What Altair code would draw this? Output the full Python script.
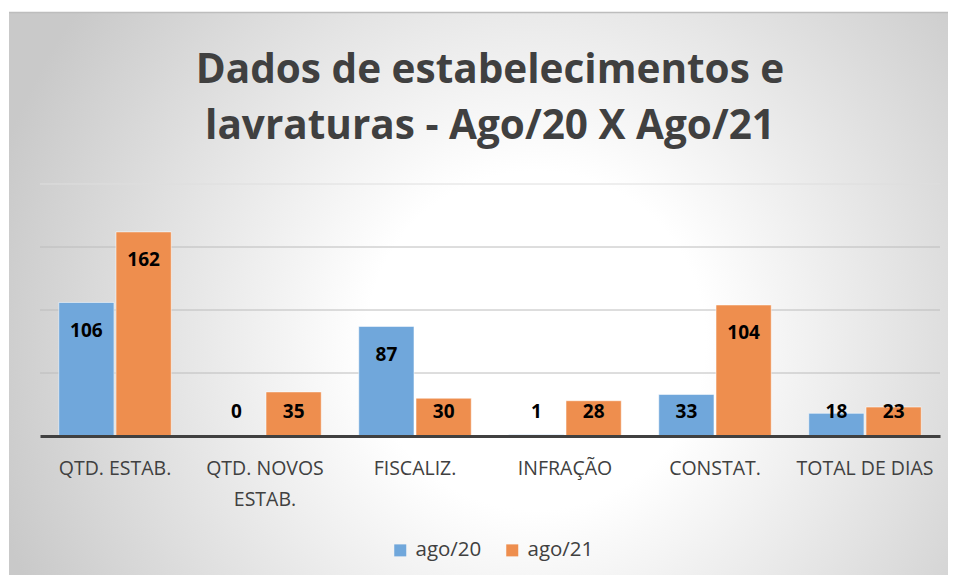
import altair as alt
import pandas as pd

categories = ["QTD. ESTAB.", "QTD. NOVOS\nESTAB.", "FISCALIZ.", "INFRAÇÃO", "CONSTAT.", "TOTAL DE DIAS"]
ago20 = [106, 0, 87, 1, 33, 18]
ago21 = [162, 35, 30, 28, 104, 23]
series = ["ago/20", "ago/21"]
colors = ["#70a7db", "#ee8e4e"]
grid_values = [50, 100, 150, 200]
title_lines = ["Dados de estabelecimentos e", "lavraturas - Ago/20 X Ago/21"]

rows = []
for c, a, b in zip(categories, ago20, ago21):
    rows.append({"cat": c, "serie": series[0], "valor": a})
    rows.append({"cat": c, "serie": series[1], "valor": b})
df = pd.DataFrame(rows)

W, H = 900, 252
FONT = "Open Sans"
yscale = alt.Scale(domain=[0, 200], nice=False, zero=True)

x_enc = alt.X(
    "cat:N",
    sort=categories,
    scale=alt.Scale(paddingInner=0.25, paddingOuter=0.125),
    axis=alt.Axis(
        title=None,
        labelExpr="split(datum.label, '\\n')",
        labelFont=FONT,
        labelFontSize=19.5,
        labelColor="#404040",
        labelLineHeight=31,
        labelPadding=23,
        labelAngle=0,
        labelBaseline="top",
        ticks=False,
        tickSize=0,
        domainColor="#404040",
        domainWidth=3,
        grid=False,
        zindex=1,
    ),
)
xoff = alt.XOffset("serie:N", sort=series, scale=alt.Scale(paddingInner=0.035))

gradient = {
    "gradient": "radial",
    "x1": 0.56, "y1": 0.55, "r1": 0,
    "x2": 0.56, "y2": 0.55, "r2": 0.6,
    "stops": [
        {"offset": 0, "color": "#ffffff"},
        {"offset": 0.3, "color": "#ffffff"},
        {"offset": 1, "color": "#c9c9c9"},
    ],
}

bg = alt.Chart(alt.Data(values=[{"k": 1}])).mark_rect(fill=gradient, clip=False).encode(
    x=alt.value(-31), x2=alt.value(910), y=alt.value(-172), y2=alt.value(391)
)

topline = alt.Chart(alt.Data(values=[{"k": 1}])).mark_rule(color="#bdbdbd", strokeWidth=1.5, clip=False).encode(
    x=alt.value(-31), x2=alt.value(910), y=alt.value(-171.5)
)

grid = alt.Chart(pd.DataFrame({"g": grid_values})).mark_rule(strokeWidth=1).encode(
    y=alt.Y("g:Q", scale=yscale, axis=None),
    stroke=alt.condition("datum.g == 200", alt.value("#dedede"), alt.value("#bcbcbc")),
)

bars = alt.Chart(df).mark_bar(stroke="#ffffff", strokeOpacity=0.55, strokeWidth=1).encode(
    x=x_enc,
    xOffset=xoff,
    y=alt.Y("valor:Q", scale=yscale, axis=None),
    color=alt.Color(
        "serie:N",
        scale=alt.Scale(domain=series, range=colors),
        legend=alt.Legend(
            title=None,
            orient="none",
            legendX=350,
            legendY=356,
            direction="horizontal",
            symbolType="square",
            symbolSize=144,
            symbolStrokeWidth=0,
            symbolOpacity=1,
            labelFont=FONT,
            labelFontSize=20.5,
            labelColor="#404040",
            labelOffset=5,
            columnPadding=20,
        ),
    ),
)

labels = alt.Chart(df).transform_calculate(
    label_y="max(datum.valor - 22.5, 19)"
).mark_text(font=FONT, fontWeight="bold", fontSize=19, color="#000000", baseline="middle").encode(
    x=x_enc,
    xOffset=xoff,
    y=alt.Y("label_y:Q", scale=yscale, axis=None),
    text=alt.Text("valor:Q"),
)

chart = alt.layer(bg, topline, grid, bars, labels).properties(
    width=W,
    height=H,
    padding={"left": 32, "top": 176, "right": 8, "bottom": 139},
    autosize="none",
    title=alt.TitleParams(
        text=title_lines,
        font=FONT,
        fontSize=40.5,
        fontWeight="bold",
        color="#404040",
        lineHeight=56,
        anchor="middle",
        frame="group",
        offset=0,
        dy=136,
    ),
).configure_view(stroke=None)

chart.save("out.html", embed_options={"renderer": "svg", "actions": False})
